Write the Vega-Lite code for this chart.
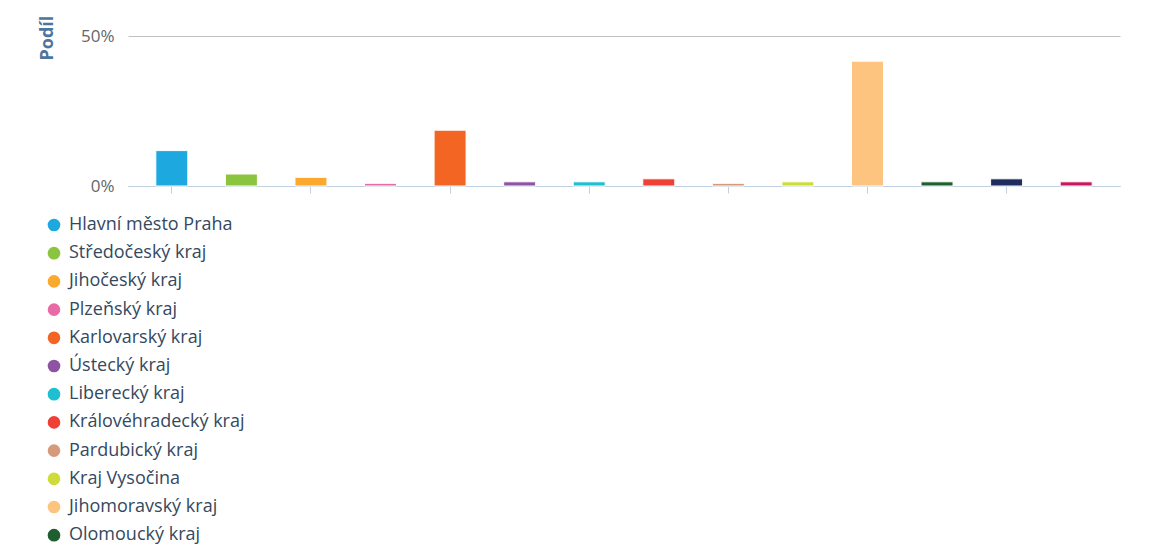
{
  "$schema": "https://vega.github.io/schema/vega-lite/v6.json",
  "autosize": {"type": "none"},
  "width": 992,
  "height": 150,
  "padding": {"left": 128, "top": 36, "right": 32, "bottom": 360},
  "background": "white",
  "config": {
    "view": {"stroke": null},
    "font": "Open Sans"
  },
  "data": {
    "values": [
      {"kraj": "Hlavní město Praha", "podil": 11.8},
      {"kraj": "Středočeský kraj", "podil": 4.0},
      {"kraj": "Jihočeský kraj", "podil": 2.9},
      {"kraj": "Plzeňský kraj", "podil": 0.9},
      {"kraj": "Karlovarský kraj", "podil": 18.6},
      {"kraj": "Ústecký kraj", "podil": 1.4},
      {"kraj": "Liberecký kraj", "podil": 1.4},
      {"kraj": "Královéhradecký kraj", "podil": 2.4},
      {"kraj": "Pardubický kraj", "podil": 0.9},
      {"kraj": "Kraj Vysočina", "podil": 1.4},
      {"kraj": "Jihomoravský kraj", "podil": 41.6},
      {"kraj": "Olomoucký kraj", "podil": 1.4},
      {"kraj": "Zlínský kraj", "podil": 2.4},
      {"kraj": "Moravskoslezský kraj", "podil": 1.4}
    ]
  },
  "mark": {"type": "bar", "stroke": "white", "strokeWidth": 1},
  "encoding": {
    "x": {
      "field": "kraj",
      "type": "nominal",
      "sort": null,
      "scale": {"paddingInner": 0.54, "paddingOuter": 0.4},
      "axis": {
        "title": null,
        "labels": false,
        "values": ["Hlavní město Praha", "Jihočeský kraj", "Karlovarský kraj", "Liberecký kraj", "Pardubický kraj", "Jihomoravský kraj", "Zlínský kraj"],
        "domainColor": "#c0d0e0",
        "domainWidth": 1,
        "tickColor": "#c0d0e0",
        "tickSize": 7,
        "tickWidth": 1
      }
    },
    "y": {
      "field": "podil",
      "type": "quantitative",
      "scale": {"domain": [0, 50], "nice": false},
      "axis": {
        "title": "Podíl",
        "values": [0, 50],
        "labelExpr": "datum.value + '%'",
        "labelFontSize": 17,
        "labelColor": "#666666",
        "labelPadding": 14,
        "domain": false,
        "ticks": false,
        "grid": true,
        "gridColor": "#c0c0c0",
        "gridWidth": 1,
        "titleColor": "#4d759e",
        "titleFontSize": 18,
        "titleFontWeight": "bold",
        "titleAngle": 270,
        "titleAlign": "left",
        "titleBaseline": "alphabetic",
        "titleX": -76,
        "titleY": 24
      }
    },
    "color": {
      "field": "kraj",
      "type": "nominal",
      "sort": null,
      "scale": {
        "range": ["#1ea8e0", "#8bc53f", "#fba92c", "#e86ba6", "#f26522", "#8e54a3", "#1dbfd0", "#ef4036", "#d69a7a", "#cddc39", "#fdc47f", "#1e5e2f", "#1f2d5e", "#c8185f"]
      },
      "legend": {
        "title": null,
        "orient": "none",
        "legendX": -83,
        "legendY": 180,
        "padding": 0,
        "symbolType": "circle",
        "symbolSize": 160,
        "symbolStrokeWidth": 0,
        "labelFontSize": 18,
        "labelColor": "#34495e",
        "labelOffset": 6,
        "rowPadding": 10.2,
        "labelLimit": 400
      }
    }
  }
}
